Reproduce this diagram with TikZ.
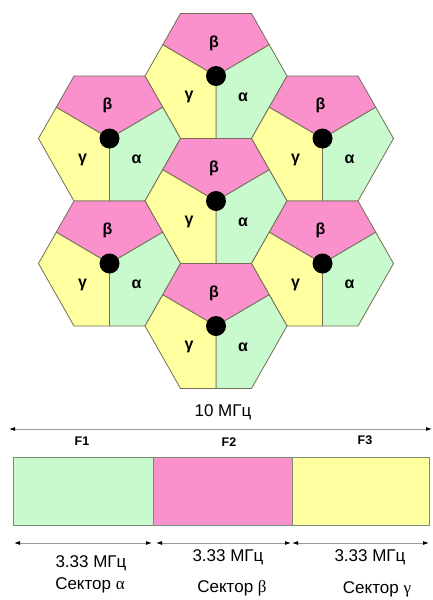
\documentclass[tikz,border=0pt]{standalone}
\usepackage{fontspec}
\setmainfont{Liberation Sans}
\newfontfamily\grserif{Liberation Serif}
\usetikzlibrary{arrows.meta}
\definecolor{sgreen}{RGB}{200,250,205}
\definecolor{spink}{RGB}{250,145,205}
\definecolor{syellow}{RGB}{255,255,160}
\definecolor{hedge}{RGB}{115,110,85}
\definecolor{bedge}{RGB}{120,140,120}
\newcommand\hexcell[3]{%
  \begin{scope}[shift={(#1,#2)}]
    \filldraw[hexline, fill=spink] (0,0) -- (-53.25,-31.25) -- (-35.5,-62.5) -- (35.5,-62.5) -- (53.25,-31.25) -- cycle;
    \filldraw[hexline, fill=sgreen] (0,0) -- (53.25,-31.25) -- (71,0) -- (35.5,62.5) -- (0,62.5) -- cycle;
    \filldraw[hexline, fill=syellow] (0,0) -- (0,62.5) -- (-35.5,62.5) -- (-71,0) -- (-53.25,-31.25) -- cycle;
    \fill[black] (0,0) circle[radius=10pt];
    \node[glabel] (#3b) at (-2,-33) {β};
    \node[glabel] (#3g) at (-27,21) {γ};
    \node[glabel] (#3a) at (27,21) {α};
  \end{scope}}
\begin{document}
\begin{tikzpicture}[x=1pt,y=-1pt,
  hexline/.style={draw=hedge, line width=0.8pt, line join=round},
  glabel/.style={font=\fontsize{16}{18}\selectfont\bfseries, inner sep=0pt},
  bar/.style={draw=bedge, line width=0.8pt, minimum height=68pt, inner sep=0pt},
  dimline/.style={draw=gray!80, line width=0.8pt, {Latex[length=6pt,width=4pt,color=black]}-{Latex[length=6pt,width=4pt,color=black]}},
  ftext/.style={font=\fontsize{12.5}{14}\selectfont\bfseries, inner sep=0pt},
  mtext/.style={font=\fontsize{17}{20}\selectfont, inner sep=0pt}]
\useasboundingbox (0,0) rectangle (433,600);
\fill[white] (0,0) rectangle (433,600);
\hexcell{216}{76}{ct}
\hexcell{109.5}{138.5}{cul}
\hexcell{322.5}{138.5}{cur}
\hexcell{216}{201}{cm}
\hexcell{109.5}{263.5}{cll}
\hexcell{322.5}{263.5}{clr}
\hexcell{216}{326}{cb}
% total band
\node[mtext] (tot) at (223,412) {10 МГц};
\coordinate (tl) at (9,429);
\coordinate (tr) at (432,429);
\draw[dimline] (tl) -- (tr);
\node[ftext] (f1) at (82,441) {F1};
\node[ftext] (f2) at (229,442) {F2};
\node[ftext] (f3) at (365,440) {F3};
% bar
\node[bar, fill=sgreen, minimum width=140pt] (b1) at (83,491.5) {};
\node[bar, fill=spink, minimum width=139pt] (b2) at (222.5,491.5) {};
\node[bar, fill=syellow, minimum width=137pt] (b3) at (360.5,491.5) {};
% sector arrows
\coordinate (s1l) at (14,543);
\coordinate (s1r) at (152,543);
\coordinate (s2l) at (156,543);
\coordinate (s2r) at (291,543);
\coordinate (s3l) at (292,543);
\coordinate (s3r) at (429,543);
\draw[dimline] (s1l) -- (s1r);
\draw[dimline] (s2l) -- (s2r);
\draw[dimline] (s3l) -- (s3r);
\node[mtext] (m1) at (91,563) {3.33 МГц};
\node[mtext] (m2) at (228,557) {3.33 МГц};
\node[mtext] (m3) at (370,557) {3.33 МГц};
\node[mtext] (n1) at (90,585) {Сектор {\grserif α}};
\node[mtext] (n2) at (232,588) {Сектор {\grserif β}};
\node[mtext] (n3) at (377,589) {Сектор {\grserif γ}};
\end{tikzpicture}
\end{document}
